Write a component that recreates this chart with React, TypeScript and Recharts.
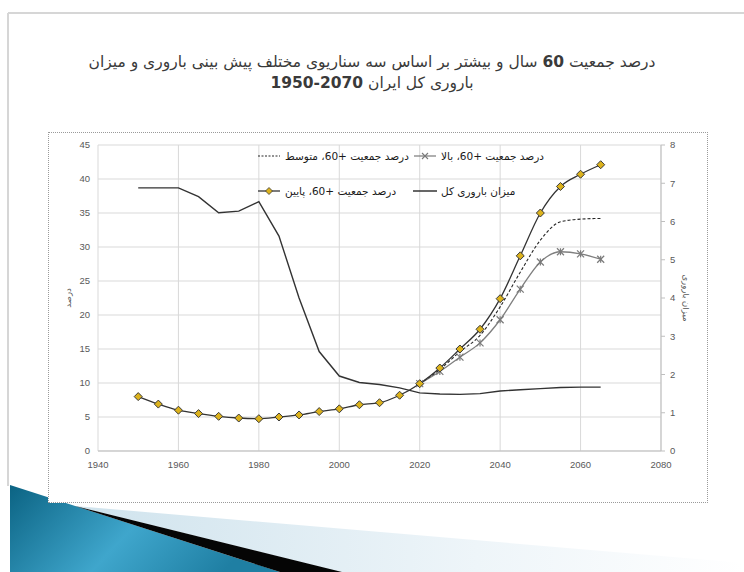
import React from 'react'
import { LineChart, Line, XAxis, YAxis, CartesianGrid, Legend } from 'recharts'

const YEARS = [1950, 1955, 1960, 1965, 1970, 1975, 1980, 1985, 1990, 1995, 2000, 2005, 2010, 2015, 2020, 2025, 2030, 2035, 2040, 2045, 2050, 2055, 2060, 2065]

// total fertility rate (right axis)
const TFR = [6.88, 6.88, 6.88, 6.65, 6.23, 6.27, 6.52, 5.62, 4.0, 2.6, 1.96, 1.79, 1.74, 1.65, 1.52, 1.49, 1.48, 1.5, 1.57, 1.6, 1.63, 1.66, 1.67, 1.67]

// share of population aged 60+ (left axis), three scenarios
const LOW = [8.0, 6.9, 6.0, 5.5, 5.1, 4.85, 4.75, 5.0, 5.3, 5.8, 6.2, 6.8, 7.1, 8.2, 9.9, 12.2, 15.0, 17.9, 22.4, 28.7, 35.0, 38.9, 40.7, 42.1]
const MEDIUM = [null, null, null, null, null, null, null, null, null, null, null, null, null, null, 9.9, 12.0, 14.6, 17.0, 21.2, 26.3, 31.0, 33.7, 34.1, 34.2]
const HIGH = [null, null, null, null, null, null, null, null, null, null, null, null, null, null, 9.9, 11.7, 13.8, 15.9, 19.3, 23.8, 27.8, 29.3, 29.0, 28.2]

const X_TICKS = [1940, 1960, 1980, 2000, 2020, 2040, 2060, 2080]
const LEFT_TICKS = [0, 5, 10, 15, 20, 25, 30, 35, 40, 45]
const RIGHT_TICKS = [0, 1, 2, 3, 4, 5, 6, 7, 8]

const NAMES = {
  high: 'درصد جمعیت +60، بالا',
  medium: 'درصد جمعیت +60، متوسط',
  low: 'درصد جمعیت +60، پایین',
  tfr: 'میزان باروری کل'
}

const data = YEARS.map((year, i) => ({
  year,
  tfr: TFR[i],
  low: LOW[i],
  medium: MEDIUM[i],
  high: HIGH[i]
}))

const GOLD = '#dcb21c'
const AR_FONT = '"DejaVu Sans", sans-serif'
const NUM_FONT = '"Liberation Sans", Arial, sans-serif'

const Diamond = (props: any) => {
  const { cx, cy, index } = props
  if (cx == null || cy == null) return <g key={`dm-${index}`} />
  const r = 4
  return (
    <polygon
      key={`dm-${index}`}
      points={`${cx},${cy - r} ${cx + r},${cy} ${cx},${cy + r} ${cx - r},${cy}`}
      fill={GOLD}
      stroke="#3a3a3a"
      strokeWidth={1}
    />
  )
}

const Star = (props: any) => {
  const { cx, cy, index } = props
  if (cx == null || cy == null) return <g key={`st-${index}`} />
  const r = 3.5
  return (
    <g key={`st-${index}`} stroke="#7a7a7a" strokeWidth={1.2}>
      <line x1={cx - r} y1={cy - r} x2={cx + r} y2={cy + r} />
      <line x1={cx - r} y1={cy + r} x2={cx + r} y2={cy - r} />
      <line x1={cx} y1={cy - r} x2={cx} y2={cy + r} />
    </g>
  )
}

const LegendIcon = ({ kind }: { kind: string }) => (
  <svg width={24} height={10} style={{ display: 'block' }}>
    {kind === 'medium' && <line x1={1} y1={5} x2={23} y2={5} stroke="#262626" strokeWidth={1} strokeDasharray="2 1.5" />}
    {kind === 'high' && (
      <g>
        <line x1={1} y1={5} x2={23} y2={5} stroke="#7a7a7a" strokeWidth={1.2} />
        <g stroke="#7a7a7a" strokeWidth={1.1}>
          <line x1={9} y1={2} x2={15} y2={8} />
          <line x1={9} y1={8} x2={15} y2={2} />
        </g>
      </g>
    )}
    {kind === 'low' && (
      <g>
        <line x1={1} y1={5} x2={23} y2={5} stroke="#262626" strokeWidth={1.2} />
        <polygon points="12,1.5 15.5,5 12,8.5 8.5,5" fill={GOLD} stroke="#3a3a3a" strokeWidth={0.8} />
      </g>
    )}
    {kind === 'tfr' && <line x1={0} y1={5} x2={26} y2={5} stroke="#262626" strokeWidth={1.4} />}
  </svg>
)

const LEGEND_ROWS = [
  ['medium', 'high'],
  ['low', 'tfr']
]

const renderLegend = () => (
  <div style={{ fontFamily: AR_FONT, fontSize: 10.5, color: '#1a1a1a' }}>
    {LEGEND_ROWS.map((row, r) => (
      <div key={r} style={{ display: 'flex', height: 35, alignItems: 'center' }}>
        {row.map((k) => (
          <div key={k} style={{ display: 'flex', alignItems: 'center', width: 156 }}>
            <LegendIcon kind={k} />
            <span style={{ direction: 'rtl', marginLeft: 4, whiteSpace: 'nowrap' }}>
              {NAMES[k as keyof typeof NAMES]}
            </span>
          </div>
        ))}
      </div>
    ))}
  </div>
)

export default function App() {
  return (
    <div
      style={{
        position: 'fixed',
        left: 0,
        top: 0,
        width: 744,
        height: 572,
        background: '#ffffff',
        overflow: 'hidden'
      }}
    >
      {/* slide background */}
      <svg width={744} height={572} style={{ position: 'absolute', left: 0, top: 0 }}>
        <defs>
          <linearGradient id="blue" x1="0" y1="0" x2="1" y2="0.3">
            <stop offset="0" stopColor="#0b6383" />
            <stop offset="0.55" stopColor="#3fa6cc" />
            <stop offset="1" stopColor="#1f7fa3" />
          </linearGradient>
          <linearGradient id="pale" x1="0" y1="0" x2="1" y2="0">
            <stop offset="0" stopColor="#cfe3ed" />
            <stop offset="0.6" stopColor="#eef5f9" />
            <stop offset="1" stopColor="#ffffff" />
          </linearGradient>
        </defs>
        <line x1={8} y1={13} x2={744} y2={13} stroke="#d6d6d6" strokeWidth={2} />
        <line x1={8} y1={13} x2={8} y2={486} stroke="#d6d6d6" strokeWidth={2} />
        <polygon points="75,506 744,563 744,572 340,572" fill="url(#pale)" />
        <polygon points="10,485 280,572 10,572" fill="url(#blue)" />
        <polygon points="75,506 280,572 342,572" fill="#050505" />
      </svg>

      {/* slide title; digits after Persian letters run right-to-left, hence 2070-1950 */}
      <div
        style={{
          position: 'absolute',
          top: 52,
          left: 0,
          width: 744,
          textAlign: 'center',
          direction: 'rtl',
          fontFamily: AR_FONT,
          fontSize: 15.5,
          lineHeight: '21px',
          color: '#3a3a3a'
        }}
      >
        <div>
          درصد جمعیت <b>60</b> سال و بیشتر بر اساس سه سناریوی مختلف پیش بینی باروری و میزان
        </div>
        <div>
          باروری کل ایران <b>2070-1950</b>
        </div>
      </div>

      {/* chart box */}
      <div
        style={{
          position: 'absolute',
          left: 48,
          top: 132,
          width: 660,
          height: 371,
          boxSizing: 'border-box',
          border: '1px dotted #9a9a9a',
          background: '#ffffff'
        }}
      >
        <LineChart width={658} height={369} data={data} margin={{ top: 12, right: 6, left: 0, bottom: 21 }}>
          <CartesianGrid yAxisId="left" stroke="#d9d9d9" strokeWidth={1} />
          <XAxis
            dataKey="year"
            type="number"
            domain={[1940, 2080]}
            ticks={X_TICKS}
            height={30}
            stroke="#bfbfbf"
            tickLine={false}
            tickMargin={4}
            tick={{ fill: '#595959', fontSize: 9.5, fontFamily: NUM_FONT }}
          />
          <YAxis
            yAxisId="left"
            domain={[0, 45]}
            ticks={LEFT_TICKS}
            width={49}
            axisLine={false}
            tickLine={false}
            tick={{ fill: '#595959', fontSize: 9.5, fontFamily: NUM_FONT }}
            label={{ value: 'درصد', angle: -90, position: 'center', dx: -6, fill: '#595959', fontSize: 8.5, fontFamily: AR_FONT }}
          />
          <YAxis
            yAxisId="right"
            orientation="right"
            domain={[0, 8]}
            ticks={RIGHT_TICKS}
            width={40}
            stroke="#bfbfbf"
            tickSize={4}
            tickMargin={5}
            tick={{ fill: '#595959', fontSize: 9.5, fontFamily: NUM_FONT }}
            label={{ value: 'میزان باروری', angle: 90, position: 'center', dx: 5, fill: '#595959', fontSize: 8.5, fontFamily: AR_FONT }}
          />
          <Legend
            layout="horizontal"
            verticalAlign="middle"
            content={renderLegend}
            wrapperStyle={{ top: 5, left: 208, width: 340 }}
          />
          <Line
            yAxisId="right"
            dataKey="tfr"
            name={NAMES.tfr}
            stroke="#333333"
            strokeWidth={1.4}
            dot={false}
            isAnimationActive={false}
          />
          <Line
            yAxisId="left"
            dataKey="high"
            name={NAMES.high}
            type="monotone"
            stroke="#7f7f7f"
            strokeWidth={1.3}
            dot={Star}
            isAnimationActive={false}
          />
          <Line
            yAxisId="left"
            dataKey="medium"
            name={NAMES.medium}
            type="monotone"
            stroke="#262626"
            strokeWidth={1.1}
            strokeDasharray="3 2"
            dot={false}
            isAnimationActive={false}
          />
          <Line
            yAxisId="left"
            dataKey="low"
            name={NAMES.low}
            type="monotone"
            stroke="#333333"
            strokeWidth={1.3}
            dot={Diamond}
            isAnimationActive={false}
          />
        </LineChart>
      </div>
    </div>
  )
}
